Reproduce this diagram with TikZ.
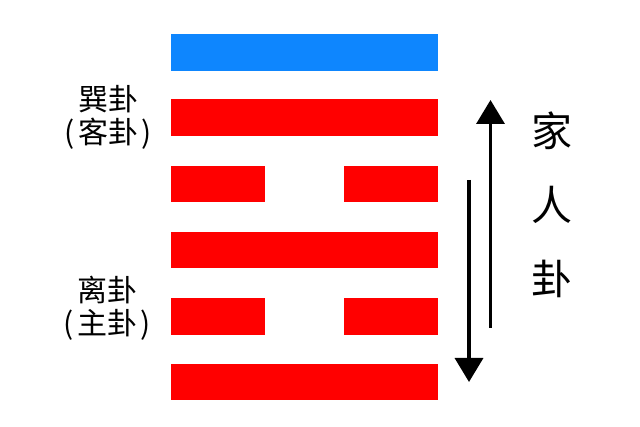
\documentclass[tikz,border=0pt]{standalone}
\usepackage{fontspec}
\newfontfamily\cjk{Noto Sans CJK SC}
\usetikzlibrary{arrows.meta}
\definecolor{yaoblue}{RGB}{14,134,254}
\definecolor{yaored}{RGB}{255,0,0}
\begin{document}
\begin{tikzpicture}[x=1pt,y=-1pt,
  bar/.style={fill=#1, draw=none, inner sep=0pt, outer sep=0pt, minimum height=36.5pt, anchor=west},
  fullbar/.style={bar=#1, minimum width=266.5pt},
  halfbar/.style={bar=#1, minimum width=94pt},
  sidelabel/.style={font=\cjk\fontsize{30}{33}\selectfont, align=center, inner sep=0pt},
  titlechar/.style={font=\cjk\fontsize{41}{41}\selectfont, inner sep=0pt},
  flow/.style={line width=3.5pt, -{Triangle[width=28pt,length=24pt]}}]
\useasboundingbox (0,0) rectangle (640,427);
\fill[white] (0,0) rectangle (640,427);
% hexagram lines, top to bottom
\node[fullbar=yaoblue] (y6) at (171,52.3) {};
\node[fullbar=yaored] (y5) at (171,117.7) {};
\node[halfbar=yaored] (y4l) at (171,184.2) {};
\node[halfbar=yaored] (y4r) at (343.5,184.2) {};
\node[fullbar=yaored] (y3) at (171,250.2) {};
\node[halfbar=yaored] (y2l) at (171,316.3) {};
\node[halfbar=yaored] (y2r) at (343.5,316.3) {};
\node[fullbar=yaored] (y1) at (171,382.2) {};
% labels
\node[sidelabel] (upper) at (108,117.5) {巽卦\\(\kern3pt 客卦\kern3pt)};
\node[sidelabel] (lower) at (107,308) {离卦\\(\kern3pt 主卦\kern3pt)};
\node[titlechar] (c1) at (552,131) {家};
\node[titlechar] (c2) at (552,205) {人};
\node[titlechar] (c3) at (552,279) {卦};
% arrows
\coordinate (upS) at (490.5,328);
\coordinate (upE) at (490.5,100);
\coordinate (dnS) at (469,180);
\coordinate (dnE) at (469,382);
\draw[flow] (upS) -- (upE);
\draw[flow] (dnS) -- (dnE);
\end{tikzpicture}
\end{document}
